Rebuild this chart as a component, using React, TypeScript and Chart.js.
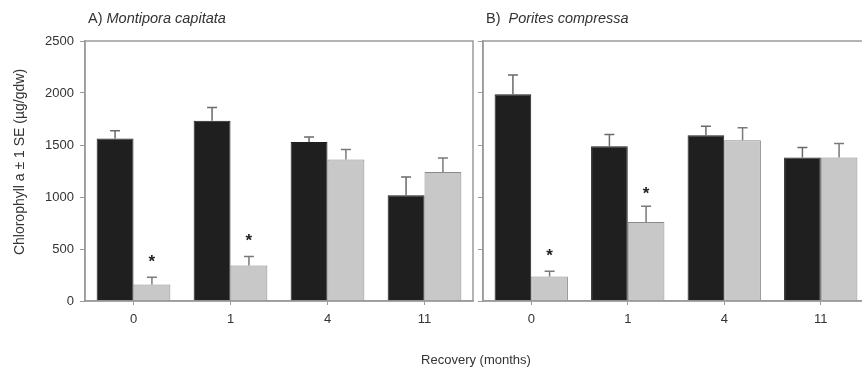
import { useEffect, useRef } from 'react';
import { Chart, registerables } from 'chart.js';

Chart.register(...registerables);

// ---- data ----
const categories = ['0', '1', '4', '11'];

const montiporaControl = [1563, 1732, 1530, 1016];
const montiporaControlSE = [73, 129, 48, 177];
const montiporaBleached = [159, 342, 1360, 1241];
const montiporaBleachedSE = [70, 87, 97, 135];
const montiporaStars = [407, 609, null, null];

const poritesControl = [1989, 1488, 1594, 1380];
const poritesControlSE = [183, 113, 87, 96];
const poritesBleached = [236, 759, 1546, 1380];
const poritesBleachedSE = [51, 151, 119, 134];
const poritesStars = [470, 1065, null, null];

const yMin = 0;
const yMax = 2500;
const yStep = 500;

const FONT = '"Liberation Sans", Arial, Helvetica, sans-serif';
const TEXT = '#333333';
const AXIS = '#9a9a9a';

const errorBarsPlugin = {
  id: 'errorBars',
  afterDatasetsDraw(chart: any) {
    const ctx = chart.ctx;
    const y = chart.scales.y;
    chart.data.datasets.forEach((ds: any, di: number) => {
      const meta = chart.getDatasetMeta(di);
      ctx.save();
      ctx.strokeStyle = ds.errorColor || '#666';
      ctx.lineWidth = 1.5;
      meta.data.forEach((bar: any, i: number) => {
        const v = ds.data[i];
        const e = ds.errors ? ds.errors[i] : null;
        if (e == null) return;
        const base = y.getPixelForValue(v);
        const top = y.getPixelForValue(v + e);
        ctx.beginPath();
        ctx.moveTo(bar.x, base);
        ctx.lineTo(bar.x, top);
        ctx.moveTo(bar.x - 5, top);
        ctx.lineTo(bar.x + 5, top);
        ctx.stroke();
      });
      if (ds.stars) {
        ctx.fillStyle = '#222';
        ctx.font = `bold 17px ${FONT}`;
        ctx.textAlign = 'center';
        ctx.textBaseline = 'middle';
        meta.data.forEach((bar: any, i: number) => {
          const s = ds.stars[i];
          if (s == null) return;
          ctx.fillText('*', bar.x, y.getPixelForValue(s) + 4);
        });
      }
      ctx.restore();
    });
  },
};

const framePlugin = {
  id: 'frame',
  afterDraw(chart: any) {
    const { left, top, right, bottom } = chart.chartArea;
    const ctx = chart.ctx;
    ctx.save();
    ctx.strokeStyle = AXIS;
    ctx.lineWidth = 1.5;
    ctx.strokeRect(left, top, right - left, bottom - top);
    ctx.restore();
  },
};

const panelTitlePlugin = {
  id: 'panelTitle',
  afterDraw(chart: any, _args: any, opts: any) {
    if (!opts || !opts.prefix) return;
    const ctx = chart.ctx;
    const x0 = chart.chartArea.left + 3;
    const yc = chart.chartArea.top - 22;
    ctx.save();
    ctx.fillStyle = TEXT;
    ctx.textBaseline = 'middle';
    ctx.textAlign = 'left';
    ctx.font = `14.5px ${FONT}`;
    const pre = opts.prefix + ' ';
    ctx.fillText(pre, x0, yc);
    const w = ctx.measureText(pre).width + (opts.gap || 0);
    ctx.font = `italic 14.5px ${FONT}`;
    ctx.fillText(opts.name, x0 + w, yc);
    // y-axis title (only when requested)
    if (opts.yTitle) {
      const ca = chart.chartArea;
      ctx.font = `14px ${FONT}`;
      ctx.textAlign = 'center';
      ctx.translate(ca.left - 65, (ca.top + ca.bottom) / 2 - 9);
      ctx.rotate(-Math.PI / 2);
      ctx.fillText(opts.yTitle, 0, 0);
    }
    ctx.restore();
  },
};

function makeConfig(p: {
  control: number[];
  controlSE: number[];
  bleached: number[];
  bleachedSE: number[];
  stars: (number | null)[];
  showYLabels: boolean;
  yWidth: number;
  padding: { left: number; right: number; top: number; bottom: number };
  prefix: string;
  name: string;
  gap: number;
}): any {
  return {
    type: 'bar',
    data: {
      labels: categories,
      datasets: [
        {
          label: 'Control',
          data: p.control,
          errors: p.controlSE,
          errorColor: '#6a6a6a',
          backgroundColor: '#1f1f1f',
          borderColor: '#1f1f1f',
          borderWidth: 1,
          categoryPercentage: 0.76,
          barPercentage: 1.0,
        },
        {
          label: 'Bleached',
          data: p.bleached,
          errors: p.bleachedSE,
          stars: p.stars,
          errorColor: '#7a7a7a',
          backgroundColor: '#c8c8c8',
          borderColor: '#8a8a8a',
          borderWidth: 1,
          categoryPercentage: 0.76,
          barPercentage: 1.0,
        },
      ],
    },
    options: {
      responsive: false,
      animation: false,
      devicePixelRatio: 1,
      layout: { padding: p.padding },
      plugins: {
        legend: { display: false },
        tooltip: { enabled: false },
        title: { display: false },
        panelTitle: {
          prefix: p.prefix,
          name: p.name,
          gap: p.gap,
          yTitle: p.showYLabels ? 'Chlorophyll a ± 1 SE (µg/gdw)' : '',
        },
      },
      scales: {
        x: {
          grid: {
            drawOnChartArea: false,
            offset: false,
            tickLength: 4,
            color: AXIS,
            lineWidth: 1,
          },
          border: { color: AXIS, width: 1.5 },
          ticks: {
            color: TEXT,
            font: { family: FONT, size: 13 },
            padding: 7,
          },
          afterFit(scale: any) {
            scale.height = 30;
          },
        },
        y: {
          min: yMin,
          max: yMax,
          grid: {
            drawOnChartArea: false,
            tickLength: 5,
            color: AXIS,
            lineWidth: 1,
          },
          border: { color: AXIS, width: 1.5 },
          ticks: {
            display: p.showYLabels,
            stepSize: yStep,
            color: TEXT,
            font: { family: FONT, size: 13 },
            padding: 6,
            callback: (v: any) => String(v),
          },
          afterFit(scale: any) {
            scale.width = p.yWidth;
          },
        },
      },
    },
    plugins: [errorBarsPlugin, framePlugin, panelTitlePlugin],
  };
}

export default function App() {
  const refA = useRef<HTMLCanvasElement | null>(null);
  const refB = useRef<HTMLCanvasElement | null>(null);

  useEffect(() => {
    const a = new Chart(
      refA.current as HTMLCanvasElement,
      makeConfig({
        control: montiporaControl,
        controlSE: montiporaControlSE,
        bleached: montiporaBleached,
        bleachedSE: montiporaBleachedSE,
        stars: montiporaStars,
        showYLabels: true,
        yWidth: 85,
        padding: { left: 0, right: 7, top: 41, bottom: 45 },
        prefix: 'A)',
        name: 'Montipora capitata',
        gap: 0,
      })
    );
    const b = new Chart(
      refB.current as HTMLCanvasElement,
      makeConfig({
        control: poritesControl,
        controlSE: poritesControlSE,
        bleached: poritesBleached,
        bleachedSE: poritesBleachedSE,
        stars: poritesStars,
        showYLabels: false,
        yWidth: 8,
        padding: { left: 475, right: 31, top: 41, bottom: 45 },
        prefix: 'B)',
        name: 'Porites compressa',
        gap: 4,
      })
    );
    return () => {
      a.destroy();
      b.destroy();
    };
  }, []);

  return (
    <div
      style={{
        position: 'fixed',
        left: 0,
        top: 0,
        width: 900,
        height: 376,
        overflow: 'hidden',
        background: '#ffffff',
      }}
    >
      <canvas
        ref={refB}
        width={900}
        height={376}
        style={{ position: 'absolute', left: 0, top: 0, width: 900, height: 376 }}
      />
      <canvas
        ref={refA}
        width={480}
        height={376}
        style={{ position: 'absolute', left: 0, top: 0, width: 480, height: 376 }}
      />
      <div
        style={{
          position: 'absolute',
          left: 376,
          top: 352,
          width: 200,
          textAlign: 'center',
          fontFamily: FONT,
          fontSize: 13,
          lineHeight: '16px',
          color: TEXT,
        }}
      >
        Recovery (months)
      </div>
    </div>
  );
}
